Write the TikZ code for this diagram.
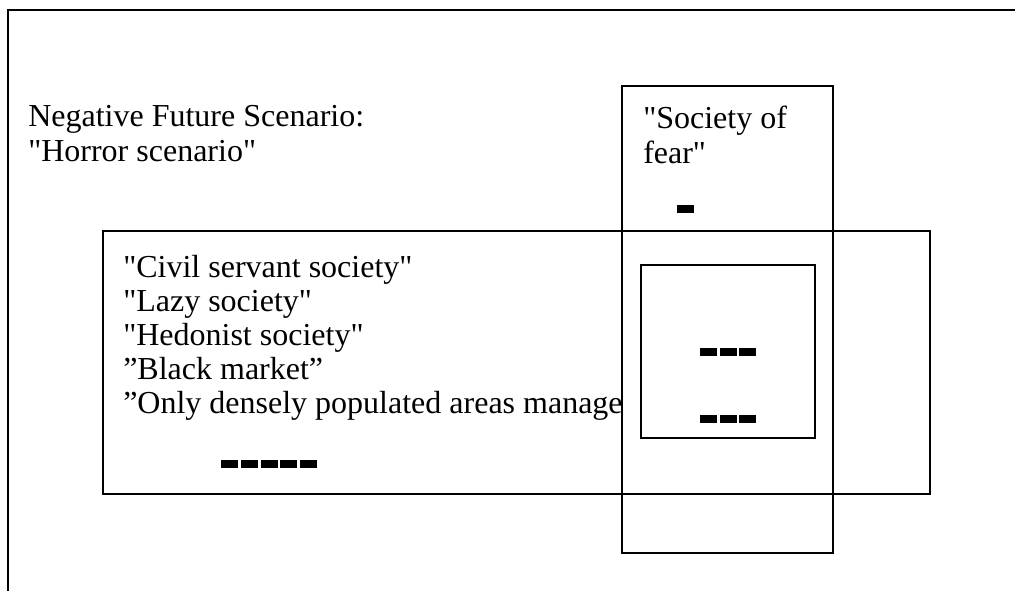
\documentclass[tikz,border=0pt]{standalone}
\usepackage{fontspec}
\setmainfont{Liberation Serif}[Ligatures=TeXOff]
\begin{document}
\begin{tikzpicture}[x=0.75pt,y=-0.75pt,
  txt/.style={anchor=base west,inner sep=0pt,font=\fontsize{24}{28}\selectfont},
  boxline/.style={draw=black,line width=1.2pt},
  frameline/.style={draw=black,line width=1.6pt},
  bar/.style={fill=black,draw=none}]
\useasboundingbox (0,0) rectangle (1015,590);
% outer frame (left and top edges)
\coordinate (fbl) at (8,592);
\coordinate (ftl) at (8,10);
\coordinate (ftr) at (1017,10);
\draw[frameline] (fbl) -- (ftl) -- (ftr);
% title
\node[txt] (neg) at (28,126) {Negative Future Scenario:};
\node[txt] (hor) at (28,161) {"Horror scenario"};
% left box texts
\node[txt] (l1) at (123,277) {"Civil servant society"};
\node[txt] (l2) at (123,311) {"Lazy society"};
\node[txt] (l3) at (123,345) {"Hedonist society"};
\node[txt] (l4) at (123,379) {”Black market”};
\node[txt] (l5) at (123,413) {”Only densely populated areas manage};
% vertical box (white, covers overflowing text)
\draw[boxline,fill=white] (622,86) rectangle (833,553);
% horizontal box
\draw[boxline] (103,231) rectangle (930,494);
% inner box
\draw[boxline] (641,265) rectangle (815,438);
% society of fear
\node[txt] (s1) at (643,128) {"Society of};
\node[txt] (s2) at (643,163) {fear"};
% bars
\fill[bar] (677,205) rectangle (694,213);
\foreach \x in {700,719.5,739} {
  \fill[bar] (\x,348) rectangle ++(17,7.5);
  \fill[bar] (\x,415) rectangle ++(17,7.5);
}
\foreach \x in {221,240.8,260.6,280.4,300.2} {
  \fill[bar] (\x,460) rectangle ++(17,8);
}
\end{tikzpicture}
\end{document}
